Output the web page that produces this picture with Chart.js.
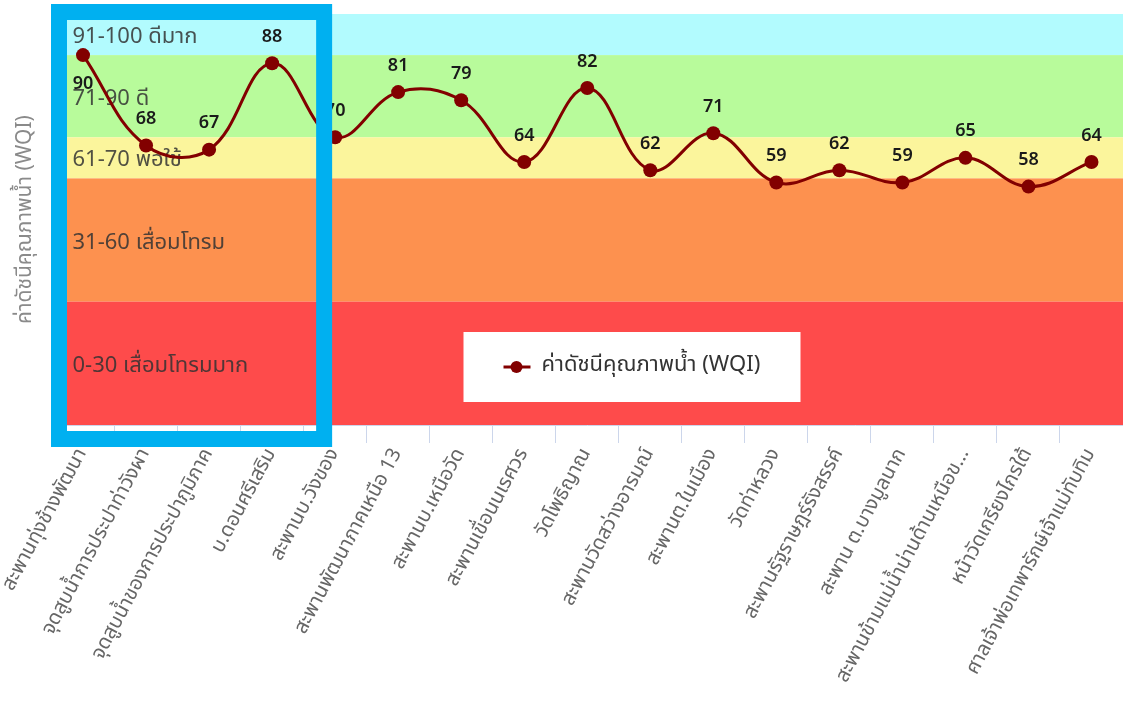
<!DOCTYPE html>
<html lang="th">
<head>
    <meta charset="UTF-8">
    <title>ค่าดัชนีคุณภาพน้ำ (WQI)</title>
    <script src="https://cdn.jsdelivr.net/npm/chart.js"></script>
    <style>
        body {
            margin: 0;
            background: #ffffff;
            overflow: hidden;
        }
        #wrap {
            width: 1123px;
            height: 724px;
            overflow: hidden;
        }
    </style>
</head>
<body>
    <div id="wrap">
        <!-- a bit wider than the page so the plot runs to the right edge -->
        <canvas id="wqiChart" width="1130" height="724"></canvas>
    </div>

    <script>
        // Stations (x axis)
        const stations = [
            'สะพานทุ่งช้างพัฒนา',
            'จุดสูบน้ำการประปาท่าวังผา',
            'จุดสูบน้ำของการประปาภูมิภาค',
            'บ.ดอนศรีเสริม',
            'สะพานบ.วังของ',
            'สะพานพัฒนาภาคเหนือ 13',
            'สะพานบ.เหนือวัด',
            'สะพานเขื่อนนเรศวร',
            'วัดโพธิญาณ',
            'สะพานวัดสว่างอารมณ์',
            'สะพานต.ในเมือง',
            'วัดท่าหลวง',
            'สะพานรัฐราษฎร์รังสรรค์',
            'สะพาน ต.บางมูลนาก',
            'สะพานข้ามแม่น้ำน่านด้านเหนือข...',
            'หน้าวัดเกรียงไกรใต้',
            'ศาลเจ้าพ่อเทพารักษ์เจ้าแม่ทับทิม'
        ];

        // WQI values
        const wqiValues = [90, 68, 67, 88, 70, 81, 79, 64, 82, 62, 71, 59, 62, 59, 65, 58, 64];

        // Quality bands
        const bandLabels = ['91-100 ดีมาก', '71-90 ดี', '61-70 พอใช้', '31-60 เสื่อมโทรม', '0-30 เสื่อมโทรมมาก'];
        const bandFrom = [90, 70, 60, 30, 0];
        const bandTo = [100, 90, 70, 60, 30];
        const bandColors = ['#b2fbfe', '#b8fb9b', '#fbf59c', '#fd914f', '#fe4b4b'];

        const seriesName = 'ค่าดัชนีคุณภาพน้ำ (WQI)';
        const lineColor = '#820000';
        const thaiFont = "Tahoma, 'Noto Sans Thai', 'Noto Sans', 'DejaVu Sans', sans-serif";

        // Background bands + their captions
        const bandsPlugin = {
            id: 'bands',
            beforeDatasetsDraw(chart) {
                const { ctx, chartArea, scales } = chart;
                const y = scales.y;
                ctx.save();
                bandLabels.forEach((label, i) => {
                    const top = y.getPixelForValue(bandTo[i]);
                    const bottom = y.getPixelForValue(bandFrom[i]);
                    ctx.fillStyle = bandColors[i];
                    ctx.fillRect(chartArea.left, top, chartArea.right - chartArea.left, bottom - top);
                    ctx.fillStyle = 'rgba(50,50,50,0.85)';
                    ctx.font = '22px ' + thaiFont;
                    ctx.textAlign = 'left';
                    ctx.textBaseline = 'middle';
                    ctx.fillText(label, chartArea.left + 21, (top + bottom) / 2 + 4);
                });
                ctx.restore();
            }
        };

        // Value labels above (or below) each point
        const valueLabels = {
            id: 'valueLabels',
            afterDatasetsDraw(chart) {
                const { ctx, chartArea } = chart;
                const meta = chart.getDatasetMeta(0);
                ctx.save();
                ctx.font = '600 18px ' + thaiFont;
                ctx.fillStyle = '#1a1a1a';
                ctx.textAlign = 'center';
                ctx.textBaseline = 'middle';
                meta.data.forEach((pt, i) => {
                    let ty = pt.y - 25;
                    if (ty < chartArea.top + 20) ty = pt.y + 30;
                    ctx.fillText(wqiValues[i], pt.x, ty);
                });
                ctx.restore();
            }
        };

        // Legend box inside the plot + blue highlight frame
        const overlay = {
            id: 'overlay',
            afterDraw(chart) {
                const { ctx, chartArea, scales } = chart;
                ctx.save();

                // legend
                const bx = chartArea.left + 412, by = chartArea.top + 318;
                ctx.fillStyle = '#ffffff';
                ctx.fillRect(bx, by, 337, 70);
                const my = by + 35;
                ctx.strokeStyle = lineColor;
                ctx.lineWidth = 3;
                ctx.beginPath();
                ctx.moveTo(bx + 40, my);
                ctx.lineTo(bx + 67, my);
                ctx.stroke();
                ctx.fillStyle = lineColor;
                ctx.beginPath();
                ctx.arc(bx + 53, my, 6, 0, Math.PI * 2);
                ctx.fill();
                ctx.fillStyle = '#333333';
                ctx.font = '22px ' + thaiFont;
                ctx.textAlign = 'left';
                ctx.textBaseline = 'middle';
                ctx.fillText(seriesName, bx + 78, my);

                // highlight frame around the first stations
                const x0 = chartArea.left + 7.5;
                const x1 = scales.x.getPixelForValue(4) - 11;
                ctx.strokeStyle = '#00b0f0';
                ctx.lineWidth = 16;
                ctx.strokeRect(x0, 12, x1 - x0, 427);
                ctx.restore();
            }
        };

        const ctx = document.getElementById('wqiChart').getContext('2d');
        new Chart(ctx, {
            type: 'line',
            data: {
                labels: stations,
                datasets: [{
                    label: seriesName,
                    data: wqiValues,
                    borderColor: lineColor,
                    backgroundColor: lineColor,
                    borderWidth: 3,
                    tension: 0.4,
                    pointRadius: 7,
                    pointBackgroundColor: lineColor,
                    pointBorderWidth: 0,
                    fill: false
                }]
            },
            options: {
                responsive: false,
                animation: false,
                layout: { padding: { top: 14, left: 0, right: 0, bottom: 0 } },
                plugins: {
                    legend: { display: false },
                    tooltip: { enabled: false }
                },
                scales: {
                    x: {
                        offset: true,
                        grid: {
                            offset: true,
                            drawOnChartArea: false,
                            drawTicks: true,
                            tickLength: 18,
                            color: '#ccd6eb'
                        },
                        border: { color: '#ccd6eb' },
                        ticks: {
                            autoSkip: false,
                            maxRotation: 62,
                            minRotation: 62,
                            padding: 2,
                            color: '#666666',
                            font: { size: 20, family: thaiFont }
                        },
                        afterFit(scale) { scale.height = 299; }
                    },
                    y: {
                        min: 0,
                        max: 100,
                        grid: { display: false },
                        border: { display: false },
                        ticks: { display: false },
                        title: {
                            display: true,
                            text: seriesName,
                            color: '#8a8a8a',
                            font: { size: 21, family: thaiFont },
                            padding: { top: 14, bottom: 0 }
                        },
                        afterFit(scale) { scale.width = 51.5; }
                    }
                }
            },
            plugins: [bandsPlugin, valueLabels, overlay]
        });
    </script>
</body>
</html>
